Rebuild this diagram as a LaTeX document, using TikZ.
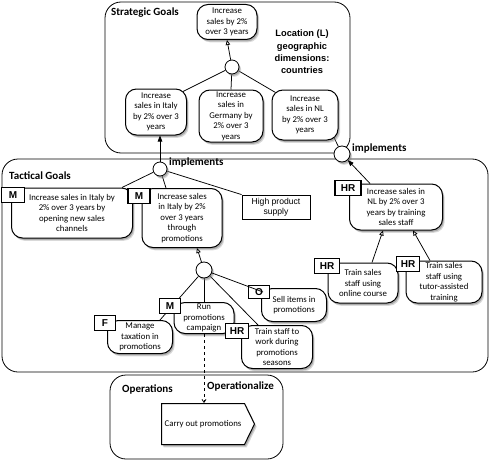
\documentclass[tikz,border=0pt]{standalone}
\usepackage{fontspec}
\setmainfont{Carlito}
\newfontfamily\arialfont{Liberation Sans}
\usetikzlibrary{shadows,shapes.symbols,arrows.meta,calc}
\pgfdeclarelayer{bg}
\pgfsetlayers{bg,main}
\tikzset{
  shad/.style={drop shadow={shadow xshift=2.2pt,shadow yshift=-2.8pt,opacity=0.3},
               drop shadow={shadow xshift=1.3pt,shadow yshift=-1.8pt,opacity=0.5}},
  goal/.style={draw, line width=1pt, rounded corners=11pt, fill=white, align=center,
    inner sep=1pt, font=\fontsize{8.8}{10.5}\selectfont, shad},
  tagbox/.style={draw, line width=1.4pt, fill=white, inner sep=0pt,
    font=\arialfont\bfseries\fontsize{10}{12}\selectfont, minimum height=15pt},
  agg/.style={circle, draw, line width=0.8pt, fill=white, minimum size=14pt, inner sep=0pt, shad},
  lbl/.style={font=\bfseries\fontsize{11}{13}\selectfont, inner sep=0pt, anchor=west},
  container/.style={draw, line width=0.8pt, rounded corners=16pt},
  conn/.style={line width=0.75pt},
  openarr/.style={conn, -{Triangle[open, length=5pt, width=4.5pt]}},
  fullarr/.style={conn, -{Triangle[length=6pt, width=4.5pt]}},
}
\begin{document}
\begin{tikzpicture}[x=1pt,y=-1pt]
\useasboundingbox (0,0) rectangle (490,460);

% containers
\begin{pgfonlayer}{bg}
\draw[container] (105,2) rectangle (350,153);
\draw[container] (2,159) rectangle (488,372);
\draw[container] (110,375) rectangle (283,459);
\end{pgfonlayer}

% labels
\node[lbl] (lblS) at (111,13) {Strategic Goals};
\node[lbl] (lblT) at (9,176) {Tactical Goals};
\node[lbl] (impl1) at (169,163) {implements};
\node[lbl] (impl2) at (352,149) {implements};
\node[lbl] (lblO) at (122,389) {Operations};
\node[lbl] (lblOz) at (207,386) {Operationalize};
\node[align=center, inner sep=0pt, font=\arialfont\bfseries\fontsize{9.3}{12.3}\selectfont] (loc) at (302,52)
  {Location (L)\\geographic\\dimensions:\\countries};

% strategic goals
\node[goal, minimum width=60pt, minimum height=35pt] (sg0) at (227,22) {Increase\\sales by 2\%\\over 3 years};
\node[agg] (c0) at (232,67) {};
\node[goal, minimum width=61pt, minimum height=46pt] (sgI) at (156,112) {Increase\\sales in Italy\\by 2\% over 3\\years};
\node[goal, minimum width=64pt, minimum height=52pt] (sgG) at (231,116) {Increase\\sales in\\Germany by\\2\% over 3\\years};
\node[goal, minimum width=66pt, minimum height=50pt] (sgN) at (305,115) {Increase\\sales in NL\\by 2\% over 3\\years};

% tactical goals
\node[agg] (c1) at (160,169) {};
\node[agg, minimum size=16pt] (c2) at (342,154) {};
\node[goal, minimum width=121pt, minimum height=50pt] (tM1) at (72,213) {Increase sales in Italy by\\2\% over 3 years by\\opening new sales\\channels};
\node[goal, minimum width=80pt, minimum height=59pt] (tM2) at (182,218) {Increase sales\\in Italy by 2\%\\over 3 years\\through\\promotions};
\node[draw, line width=0.8pt, fill=white, align=center, inner sep=1pt, minimum width=68pt, minimum height=24pt,
  font=\arialfont\fontsize{8.6}{10}\selectfont] (hps) at (276,207) {High product\\supply};
\node[goal, minimum width=93pt, minimum height=46pt] (tNL) at (396,207) {Increase sales in\\NL by 2\% over 3\\years by training\\sales staff};
\node[goal, minimum width=70pt, minimum height=40pt] (tOC) at (363,283) {Train sales\\staff using\\online course};
\node[goal, minimum width=76pt, minimum height=42pt] (tTA) at (444,282) {Train sales\\staff using\\tutor-assisted\\training};

\node[agg, minimum size=16pt] (c3) at (204,270) {};
\node[goal, minimum width=60pt, minimum height=31pt] (tRun) at (204,318) {Run\\promotions\\campaign};
\node[goal, minimum width=65pt, minimum height=33pt] (tF) at (140,337) {Manage\\taxation in\\promotions};
\node[goal, minimum width=65pt, minimum height=33pt] (tSell) at (294,305) {Sell items in\\promotions};
\node[goal, minimum width=71pt, minimum height=43pt] (tTrain) at (277,347) {Train staff to\\work during\\promotions\\seasons};

% operations
\node[signal, signal to=east, signal pointer angle=128, draw, line width=1pt, fill=white, shad,
  minimum width=93pt, minimum height=41pt, inner sep=1pt, font=\fontsize{8.8}{10.5}\selectfont] (op) at (203,424) {Carry out promotions};

% tags
\node[tagbox, minimum width=23pt] (tagM1) at (13,195) {M};
\node[tagbox, minimum width=22pt] (tagM2) at (139,196) {M};
\node[tagbox, minimum width=26pt] (tagNL) at (348,188) {HR};
\node[tagbox, minimum width=25pt] (tagOC) at (327,266) {HR};
\node[tagbox, minimum width=23pt] (tagTA) at (408,264) {HR};
\node[tagbox, minimum width=21pt] (tagRun) at (170,306) {M};
\node[tagbox, minimum width=21pt] (tagF) at (105,323) {F};
\node[tagbox, minimum width=21pt, minimum height=13pt] (tagO) at (259,292) {O};
\node[tagbox, minimum width=23pt] (tagTr) at (237,331) {HR};

% connectors
\begin{pgfonlayer}{bg}
\draw[conn] (c0) -- ([xshift=-4pt,yshift=-3pt]sgI.north east);
\draw[conn] (c0) -- (sgG.north);
\draw[conn] (c0) -- ([xshift=4pt,yshift=-3pt]sgN.north west);
\draw[conn] ([xshift=-5pt,yshift=4pt]sgN.south east) -- (c2);
\draw[conn] (c1) -- ([xshift=-11pt]tM1.north east);
\draw[conn] (c1) -- ([xshift=-16pt]tM2.north);
\draw[conn] (c1) -- (hps.north west);
\draw[conn] (c3) -- ([xshift=-13pt]tF.north east);
\draw[conn] (c3) -- (tRun.north);
\draw[conn] (c3) -- ([xshift=-19pt]tTrain.north);
\end{pgfonlayer}
\draw[openarr] (c0) -- (sg0.south);
\draw[fullarr] (c1) -- (c1 |- sgI.south);
\draw[fullarr] ([xshift=-26pt]tNL.north) -- (c2);
\draw[openarr] ([xshift=9pt]tOC.north) -- ([xshift=-13pt]tNL.south);
\draw[openarr] ([xshift=-14pt]tTA.north) -- ([xshift=17pt]tNL.south);
\draw[openarr] (c3) -- ([xshift=15pt]tM2.south);
\draw[conn] (c3) -- ([xshift=4pt]tagO.center);
\draw[conn, dashed, -{Straight Barb[length=3pt,width=4pt]}] (tRun.south) -- (tRun.south |- op.north);
\end{tikzpicture}
\end{document}
